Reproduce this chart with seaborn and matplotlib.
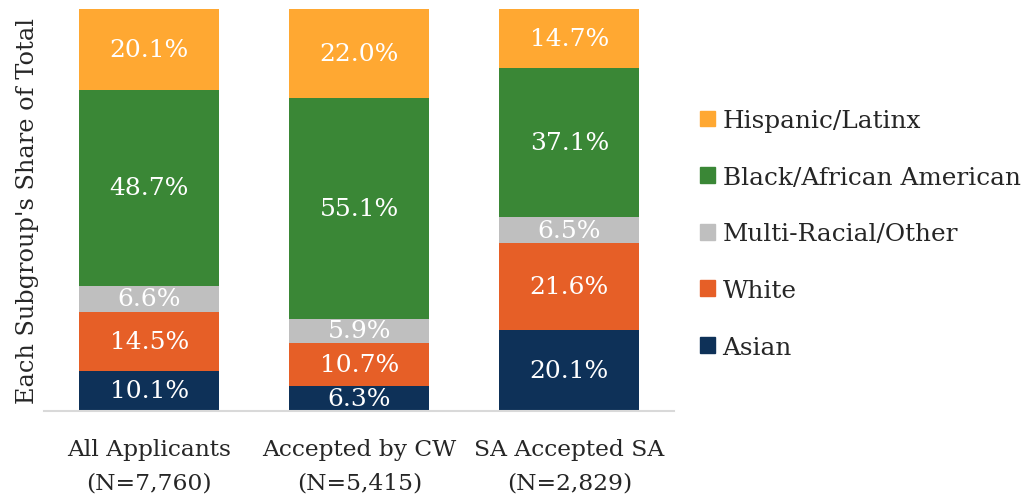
import numpy as np
import pandas as pd
import seaborn as sns
import matplotlib.pyplot as plt
from matplotlib.patches import Patch

groups = ["All Applicants\n(N=7,760)", "Accepted by CW\n(N=5,415)", "SA Accepted SA\n(N=2,829)"]
# bottom to top
races = ["Asian", "White", "Multi-Racial/Other", "Black/African American", "Hispanic/Latinx"]
asian = [10.1, 6.3, 20.1]
white = [14.5, 10.7, 21.6]
multi = [6.6, 5.9, 6.5]
black = [48.7, 55.1, 37.1]
hispanic = [20.1, 22.0, 14.7]
colors = ["#0E3158", "#E65F27", "#BFBFBF", "#3A8736", "#FFA832"]

sns.set_theme(style="white")
plt.rcParams['font.family'] = ['DejaVu Serif']
fs = 18

vals = np.array([asian, white, multi, black, hispanic])
cum = vals.cumsum(axis=0)

fig = plt.figure(figsize=(10.25, 5.02), dpi=100)
ax = fig.add_axes([0.043, 0.179, 0.615, 0.801])

# overlay cumulative bars, tallest first
for i in range(len(races) - 1, -1, -1):
    d = pd.DataFrame({"group": groups, "val": cum[i]})
    sns.barplot(data=d, x="group", y="val", color=colors[i], saturation=1,
                width=0.667, ax=ax, linewidth=0)

for i in range(len(races)):
    for j in range(len(groups)):
        ax.text(j, cum[i][j] - vals[i][j] / 2, f"{vals[i][j]:.1f}%", ha="center", va="center",
                color="white", fontsize=fs)

ax.set_xlim(-0.5, 2.5)
ax.set_ylim(0, 100)
ax.set_yticks([])
ax.set_xlabel("")
ax.set_ylabel("Each Subgroup's Share of Total", fontsize=17.3, labelpad=4)
ax.tick_params(axis="x", labelsize=16.8, pad=19, length=0)
for lab in ax.get_xticklabels():
    lab.set_linespacing(1.72)
for s in ["top", "right", "left"]:
    ax.spines[s].set_visible(False)
ax.spines["bottom"].set_color("#D9D9D9")
ax.spines["bottom"].set_linewidth(1.5)

handles = [Patch(color=colors[i], label=races[i]) for i in range(len(races) - 1, -1, -1)]
fig.legend(handles=handles, loc="center left", bbox_to_anchor=(0.661, 0.532), frameon=False,
           fontsize=17.8, handlelength=0.6, handleheight=0.6, handletextpad=0.32,
           labelspacing=1.36)

fig.savefig("out.png", dpi=100)
